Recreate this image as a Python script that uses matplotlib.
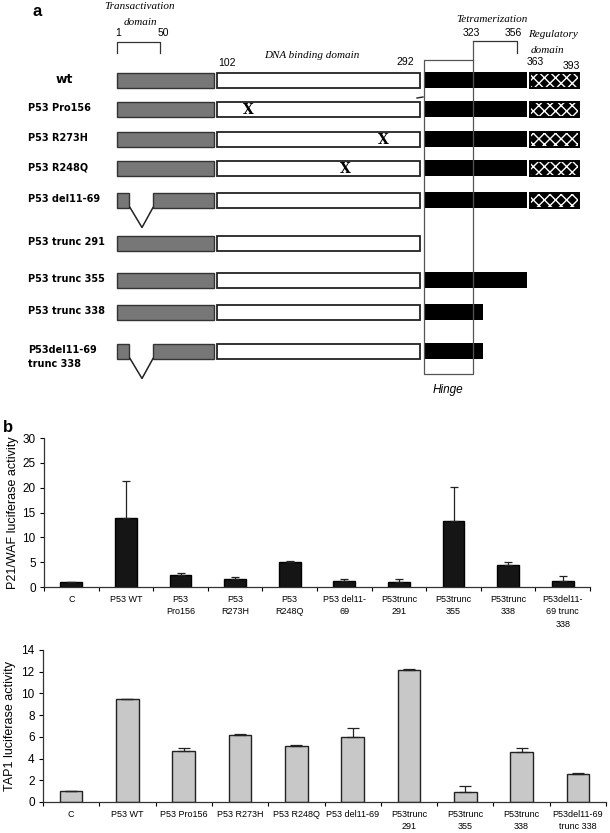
import matplotlib.pyplot as plt
import numpy as np

plt.rcParams['font.family'] = ['Liberation Sans', 'DejaVu Sans']
plt.rcParams['hatch.linewidth'] = 1.0

# ---- panel a: construct map (schematic, drawn in figure pixel units) ----
construct_labels = ["wt", "P53 Pro156", "P53 R273H", "P53 R248Q", "P53 del11-69",
                    "P53 trunc 291", "P53 trunc 355", "P53 trunc 338",
                    "P53del11-69\ntrunc 338"]
row_y = [80, 109, 139, 168, 200, 243, 280, 312, 351]
ta_span = (117, 214)        # transactivation domain 1-102
dbd_span = (217, 420)       # DNA binding domain 102-292
tet_start = 424
tet_end = [527, 527, 527, 527, 527, None, 527, 483, 483]
reg_span = (530, 579)       # regulatory domain 363-393
has_reg = [True, True, True, True, True, False, False, False, False]
mutation_x = [None, 248, 383, 345, None, None, None, None, None]
has_deletion = [False, False, False, False, True, False, False, False, True]
del_gap = (129, 153)

# ---- panel b: luciferase assays ----
p21_labels = ["C", "P53 WT", "P53\nPro156", "P53\nR273H", "P53\nR248Q",
              "P53 del11-\n69", "P53trunc\n291", "P53trunc\n355", "P53trunc\n338",
              "P53del11-\n69 trunc\n338"]
p21_mean = [1.0, 13.8, 2.4, 1.65, 5.1, 1.3, 1.0, 13.3, 4.4, 1.3]
p21_err = [0.0, 7.5, 0.45, 0.3, 0.15, 0.35, 0.65, 6.8, 0.7, 0.9]

tap1_labels = ["C", "P53 WT", "P53 Pro156", "P53 R273H", "P53 R248Q",
               "P53 del11-69", "P53trunc\n291", "P53trunc\n355", "P53trunc\n338",
               "P53del11-69\ntrunc 338"]
tap1_mean = [1.0, 9.5, 4.7, 6.2, 5.15, 6.0, 12.15, 0.95, 4.6, 2.55]
tap1_err = [0.0, 0.0, 0.3, 0.07, 0.07, 0.8, 0.07, 0.55, 0.35, 0.08]

fig = plt.figure(figsize=(6.1, 8.33), dpi=100)

ax = fig.add_axes([0, 0, 1, 1])
ax.set_xlim(0, 610)
ax.set_ylim(833, 0)
ax.axis("off")

bar_h = 15
gray = "#777777"
for i, y in enumerate(row_y):
    if has_deletion[i]:
        ax.barh(y, del_gap[0] - ta_span[0], left=ta_span[0], height=bar_h,
                color=gray, edgecolor="#333333", lw=1)
        ax.barh(y, ta_span[1] - del_gap[1], left=del_gap[1], height=bar_h,
                color=gray, edgecolor="#333333", lw=1)
        yb = y + bar_h / 2
        ax.plot([del_gap[0] + 1, (del_gap[0] + del_gap[1]) / 2 + 1, del_gap[1]],
                [yb, yb + 20, yb], color="#222222", lw=1.1)
    else:
        ax.barh(y, ta_span[1] - ta_span[0], left=ta_span[0], height=bar_h,
                color=gray, edgecolor="#333333", lw=1)
    ax.barh(y, dbd_span[1] - dbd_span[0], left=dbd_span[0], height=bar_h,
            color="white", edgecolor="#222222", lw=1.3)
    if mutation_x[i] is not None:
        ax.text(mutation_x[i], y + 1, "X", ha="center", va="center", fontsize=10,
                fontweight="bold", family="DejaVu Serif", zorder=4)
    if tet_end[i] is not None:
        ax.barh(y, tet_end[i] - tet_start, left=tet_start, height=bar_h + 1,
                color="black", lw=0)
    if has_reg[i]:
        ax.barh(y, reg_span[1] - reg_span[0], left=reg_span[0], height=bar_h,
                color="black", edgecolor="white", hatch="xxx", lw=0)
        ax.barh(y, reg_span[1] - reg_span[0], left=reg_span[0], height=bar_h,
                fill=False, edgecolor="black", lw=1.4)

    if i == 0:
        ax.text(64, y + 3, construct_labels[i], ha="center", va="baseline",
                fontsize=9, fontweight="bold", family="DejaVu Sans")
    else:
        ax.text(28, y - 6, construct_labels[i], ha="left", va="top",
                fontsize=7, fontweight="bold", family="DejaVu Sans",
                linespacing=1.55)

# stray tick mark next to the Pro156 row
ax.plot([417, 423], [98, 97], color="#222222", lw=1)

# hinge box and tetramerization bracket
ax.plot([473, 424, 424, 473, 473], [60, 60, 374, 374, 41], color="#555555",
        lw=0.9, zorder=5)
ax.plot([473, 517, 517], [41, 41, 53], color="#333333", lw=0.9)
# transactivation bracket
ax.plot([117, 117, 160, 160], [53, 42, 42, 53], color="#333333", lw=0.9)

serif_it = dict(family="Liberation Serif", style="italic", fontsize=8,
                ha="center", va="center")
ax.text(140, 6, "Transactivation", **serif_it)
ax.text(140, 22, "domain", **serif_it)
ax.text(312, 55, "DNA binding domain", **serif_it)
ax.text(492, 19, "Tetramerization", **serif_it)
ax.text(553, 34, "Regulatory", **serif_it)
ax.text(547, 50, "domain", **serif_it)

num_kw = dict(fontsize=7.5, ha="center", va="center")
ax.text(118, 33, "1", **num_kw)
ax.text(163, 33, "50", **num_kw)
ax.text(227, 63, "102", **num_kw)
ax.text(405, 62, "292", **num_kw)
ax.text(471, 33, "323", **num_kw)
ax.text(513, 33, "356", **num_kw)
ax.text(535, 62, "363", **num_kw)
ax.text(571, 66, "393", **num_kw)

ax.text(448, 390, "Hinge", style="italic", fontsize=8.5, ha="center", va="center")
ax.text(37, 11, "a", fontsize=12, fontweight="bold", ha="center", va="center")
ax.text(8, 427, "b", fontsize=12, fontweight="bold", ha="center", va="center")


def bar_panel(axb, labels, mean, err, face, edge, ylim, step, ylabel, capsize):
    x = np.arange(len(mean))
    axb.bar(x, mean, width=0.4, color=face, edgecolor=edge, lw=1.0, zorder=2)
    axb.errorbar(x, mean, yerr=[np.zeros(len(err)), err], fmt="none",
                 ecolor="#222222", elinewidth=0.9, capsize=capsize, capthick=0.9,
                 zorder=3)
    axb.set_xlim(-0.5, len(mean) - 0.5)
    axb.set_ylim(0, ylim)
    axb.set_yticks(np.arange(0, ylim + 0.1, step))
    axb.set_xticks(x)
    axb.set_xticklabels(labels, fontsize=6.5, linespacing=1.45)
    axb.set_xticks(np.arange(-0.5, len(mean), 1), minor=True)
    axb.tick_params(axis="x", which="major", length=0, pad=6)
    axb.tick_params(axis="x", which="minor", length=3, direction="out", width=0.8)
    axb.tick_params(axis="y", labelsize=8.5, length=3, width=0.8, pad=3)
    for s in ["top", "right"]:
        axb.spines[s].set_visible(False)
    for s in ["left", "bottom"]:
        axb.spines[s].set_linewidth(0.9)
        axb.spines[s].set_color("#333333")
    axb.set_ylabel(ylabel, fontsize=9)
    axb.yaxis.label.set_verticalalignment("center")


ax1 = fig.add_axes([44 / 610, 1 - 587 / 833, 546 / 610, 149 / 833])
bar_panel(ax1, p21_labels, p21_mean, p21_err, "#151515", "black", 30, 5,
          "P21/WAF luciferase activity", 2.8)
ax1.yaxis.set_label_coords((13 - 44) / 546, 0.5)

ax2 = fig.add_axes([43 / 610, 1 - 802 / 833, 563 / 610, 152 / 833])
bar_panel(ax2, tap1_labels, tap1_mean, tap1_err, "#c8c8c8", "#222222", 14, 2,
          "TAP1 luciferase activity", 4)
ax2.yaxis.set_label_coords((10 - 43) / 563, 0.5)

fig.savefig("out.png", dpi=100)
